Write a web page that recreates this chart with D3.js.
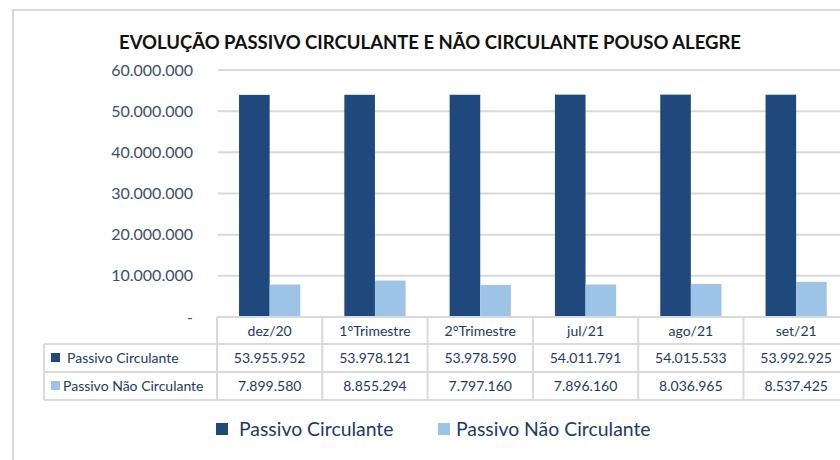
<!DOCTYPE html>
<html>
<head>
<meta charset="utf-8">
<script src="https://cdn.jsdelivr.net/npm/d3@7"></script>
<style>
  body { margin: 0; background: #fff; }
  svg { font-family: Lato, "Liberation Sans", sans-serif; }
</style>
</head>
<body>
<div id="chart"></div>
<script>
// data
const categories = ["dez/20", "1°Trimestre", "2°Trimestre", "jul/21", "ago/21", "set/21"];
const seriesNames = ["Passivo Circulante", "Passivo Não Circulante"];
const passivoCirculante = [53955952, 53978121, 53978590, 54011791, 54015533, 53992925];
const passivoNaoCirculante = [7899580, 8855294, 7797160, 7896160, 8036965, 8537425];
const yTicks = [0, 10000000, 20000000, 30000000, 40000000, 50000000, 60000000];

const colors = ["#1F497D", "#9DC3E6"];
const gridColor = "#D9D9D9";
const labelColor = "#3B4F6E";
const textColor = "#223A66";

const width = 840, height = 460;

const ptBR = d3.formatLocale({ decimal: ",", thousands: ".", grouping: [3], currency: ["", ""] });
const fmt = ptBR.format(",.0f");

const svg = d3.select("#chart")
  .append("svg")
  .attr("width", width)
  .attr("height", height);

// outer frame (cut on the right / bottom like the original)
svg.append("rect")
  .attr("x", 13)
  .attr("y", 10)
  .attr("width", 900)
  .attr("height", 500)
  .attr("fill", "none")
  .attr("stroke", gridColor)
  .attr("stroke-width", 2);

// title
svg.append("text")
  .attr("x", 430)
  .attr("y", 49)
  .attr("text-anchor", "middle")
  .attr("font-weight", "bold")
  .attr("font-size", 18.5)
  .attr("fill", "#111")
  .text("EVOLUÇÃO PASSIVO CIRCULANTE E NÃO CIRCULANTE POUSO ALEGRE");

const x = d3.scaleBand()
  .domain(categories)
  .range([217, 217 + 6 * 105.3]);

const y = d3.scaleLinear()
  .domain([0, 60000000])
  .range([317, 70]);

const xs = d3.scaleBand()
  .domain(seriesNames)
  .range([0, x.bandwidth()])
  .paddingInner(0)
  .paddingOuter(0.72);

// gridlines
svg.append("g")
  .selectAll("line")
  .data(yTicks.slice(1))
  .enter()
  .append("line")
  .attr("x1", 218)
  .attr("x2", width + 10)
  .attr("y1", d => y(d))
  .attr("y2", d => y(d))
  .attr("stroke", gridColor)
  .attr("stroke-width", 2);

// y axis labels
const yAxis = svg.append("g")
  .attr("transform", "translate(193,0)")
  .call(d3.axisLeft(y).tickValues(yTicks).tickSize(0).tickPadding(0)
    .tickFormat(d => d === 0 ? "-   " : fmt(d)));
yAxis.select(".domain").remove();
yAxis.selectAll("text")
  .attr("font-family", "Lato, sans-serif")
  .attr("font-size", 16)
  .attr("fill", labelColor);

// bars
const rows = categories.map((c, i) => ({ cat: c, values: [passivoCirculante[i], passivoNaoCirculante[i]] }));

const groups = svg.append("g")
  .selectAll("g")
  .data(rows)
  .enter()
  .append("g")
  .attr("transform", d => `translate(${x(d.cat)},0)`);

groups.selectAll("rect")
  .data(d => d.values.map((v, j) => ({ name: seriesNames[j], value: v, j: j })))
  .enter()
  .append("rect")
  .attr("x", d => xs(d.name))
  .attr("y", d => y(d.value))
  .attr("width", xs.bandwidth())
  .attr("height", d => y(0) - y(d.value))
  .attr("fill", d => colors[d.j]);

// data table
const rowTop = [317, 344, 372, 400];
const table = svg.append("g");
const tableRight = x.range()[1];

// horizontal lines
table.append("line")
  .attr("x1", 217).attr("x2", tableRight)
  .attr("y1", rowTop[0]).attr("y2", rowTop[0])
  .attr("stroke", gridColor).attr("stroke-width", 2);
[1, 2, 3].forEach(r => {
  table.append("line")
    .attr("x1", 44).attr("x2", tableRight)
    .attr("y1", rowTop[r]).attr("y2", rowTop[r])
    .attr("stroke", gridColor).attr("stroke-width", 2);
});

// vertical lines
categories.forEach(c => {
  table.append("line")
    .attr("x1", x(c)).attr("x2", x(c))
    .attr("y1", rowTop[0]).attr("y2", rowTop[3])
    .attr("stroke", gridColor).attr("stroke-width", 2);
});
table.append("line")
  .attr("x1", 44).attr("x2", 44)
  .attr("y1", rowTop[1]).attr("y2", rowTop[3])
  .attr("stroke", gridColor).attr("stroke-width", 2);

// header labels
table.selectAll(".hdr")
  .data(categories)
  .enter()
  .append("text")
  .attr("class", "hdr")
  .attr("x", d => x(d) + x.bandwidth() / 2)
  .attr("y", (rowTop[0] + rowTop[1]) / 2 + 5)
  .attr("text-anchor", "middle")
  .attr("font-size", 14)
  .attr("fill", textColor)
  .text(d => d);

// series rows
const seriesValues = [passivoCirculante, passivoNaoCirculante];
seriesNames.forEach((name, j) => {
  const cy = (rowTop[j + 1] + rowTop[j + 2]) / 2;
  table.append("rect")
    .attr("x", 51).attr("y", cy - 5)
    .attr("width", 9).attr("height", 9)
    .attr("fill", colors[j]);
  table.append("text")
    .attr("x", j === 0 ? 67 : 63)
    .attr("y", cy + 5)
    .attr("font-size", 14)
    .attr("fill", textColor)
    .text(name);
  table.selectAll(".v" + j)
    .data(seriesValues[j])
    .enter()
    .append("text")
    .attr("class", "v" + j)
    .attr("x", (d, i) => x(categories[i]) + x.bandwidth() / 2)
    .attr("y", cy + 5)
    .attr("text-anchor", "middle")
    .attr("font-size", 14)
    .attr("fill", textColor)
    .text(d => fmt(d));
});

// legend
const legendX = [216, 438];
const legend = svg.append("g");
const legendItem = legend.selectAll(".legend-item")
  .data(seriesNames)
  .enter()
  .append("g")
  .attr("class", "legend-item")
  .attr("transform", (d, i) => `translate(${legendX[i]}, 423)`);

legendItem.append("rect")
  .attr("width", 12)
  .attr("height", 12)
  .attr("fill", (d, i) => colors[i]);

legendItem.append("text")
  .attr("x", (d, i) => i === 0 ? 23 : 18)
  .attr("y", 13)
  .attr("font-size", 19.4)
  .attr("fill", textColor)
  .text(d => d);
</script>
</body>
</html>
